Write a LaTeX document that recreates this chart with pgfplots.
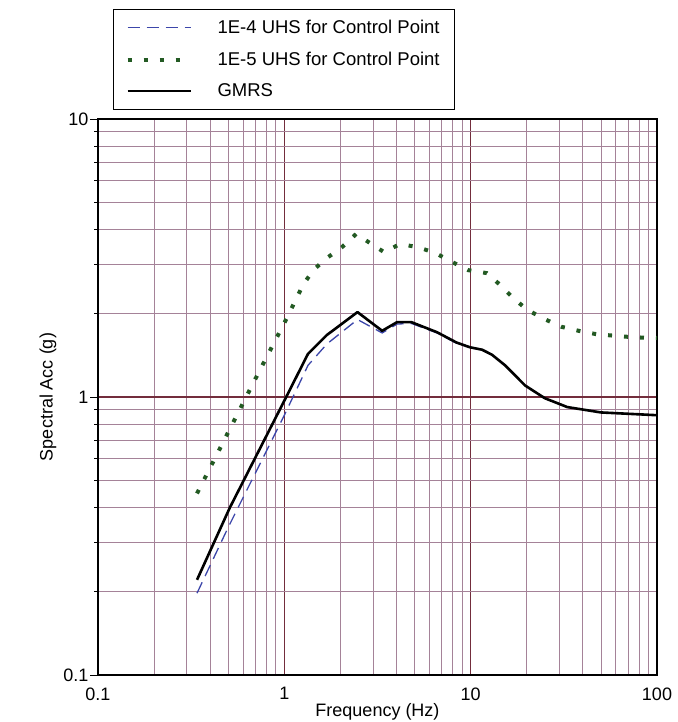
\documentclass[border=0pt]{standalone}
\usepackage{fontspec}
\setmainfont{Liberation Sans}
\usepackage{pgfplots}
\pgfplotsset{compat=1.18}
\definecolor{uhsblue}{RGB}{60,70,170}
\definecolor{uhsgreen}{RGB}{35,90,35}
\definecolor{gridminor}{RGB}{165,130,152}
\definecolor{gridmajor}{RGB}{115,45,60}
\begin{document}
\begin{tikzpicture}
\useasboundingbox (-98pt,-47pt) rectangle (579pt,675pt);
\begin{axis}[
 at={(0,0)}, anchor=south west,
 scale only axis, width=559pt, height=556pt,
 xmode=log, ymode=log,
 xmin=0.1,xmax=100,ymin=0.1,ymax=10,
 xtick={0.1,1,10,100}, xticklabels={0.1,1,10,100},
 ytick={0.1,1,10}, yticklabels={0.1,1,10},
 minor xtick={0.2,0.3,0.4,0.5,0.6,0.7,0.8,0.9,2,3,4,5,6,7,8,9,20,30,40,50,60,70,80,90},
 minor ytick={0.2,0.3,0.4,0.5,0.6,0.7,0.8,0.9,2,3,4,5,6,7,8,9},
 grid=both,
 major grid style={gridmajor, line width=1.1pt},
 minor grid style={gridminor, line width=0.8pt},
 axis line style={black,line width=1.4pt},
 tick align=outside, major tick length=8pt, minor tick length=4pt,
 ytick pos=left, xtick pos=bottom,
 ytick style={black,line width=0.8pt},
 every minor tick/.append style={gridminor},
 xtick style={draw=none},
 /pgf/number format/assume math mode=true,
 ticklabel style={font=\fontsize{18}{20}\selectfont},
 yticklabel style={xshift=2pt},
 xticklabel style={yshift=-1pt},
 xlabel={Frequency (Hz)}, ylabel={Spectral Acc (g)},
 label style={font=\fontsize{18}{20}\selectfont},
 xlabel style={at={(axis description cs:0.5,-0.0665)}, anchor=center},
 ylabel style={at={(axis description cs:-0.0894,0.5)}, anchor=center},
 legend style={at={(0.0268,1.0162)}, anchor=south west, draw=black, line width=1.2pt, fill=white,
   font=\fontsize{18.5}{21}\selectfont, inner xsep=12pt, inner ysep=8pt, row sep=11pt,
   nodes={inner sep=3pt}, /tikz/every odd column/.append style={column sep=22pt}},
 legend cell align=left,
 legend image code/.code={\draw[#1] (0pt,0pt) -- (63pt,0pt);},
]
\addplot[uhsblue, line width=1.3pt, dash pattern=on 12pt off 7pt] coordinates {
(0.34,0.197)(0.5,0.34)(1.0,0.86)(1.34,1.3)(1.69,1.55)(2.47,1.9)(3.35,1.70)(4.03,1.83)(4.8,1.84)
(6.6,1.70)(8.4,1.56)(9.9,1.51)(11.5,1.48)(13,1.42)(15.3,1.3)(19.6,1.1)(25,0.99)(33,0.92)(50,0.88)(100,0.86)};
\addlegendentry{1E-4 UHS for Control Point}
\addplot[uhsgreen, line width=4pt, dash pattern=on 4pt off 12pt] coordinates {
(0.34,0.45)(0.68,1.12)(1.03,1.92)(1.26,2.53)(1.43,2.86)(1.69,3.16)(2.04,3.46)(2.43,3.86)(2.88,3.58)
(3.43,3.32)(4.18,3.55)(5.2,3.46)(6.44,3.3)(7.95,3.06)(9.7,2.86)(12.2,2.79)(14.4,2.53)(16.9,2.27)
(20.1,2.06)(24.8,1.91)(30.6,1.79)(38,1.73)(47.8,1.68)(60.2,1.66)(74.5,1.64)(100,1.63)};
\addlegendentry{1E-5 UHS for Control Point}
\addplot[black, line width=2.6pt, line join=round] coordinates {
(0.34,0.22)(0.51,0.40)(1.0,0.97)(1.34,1.43)(1.69,1.67)(2.47,2.02)(3.35,1.73)(4.03,1.86)(4.8,1.86)
(6.6,1.71)(8.4,1.57)(9.9,1.51)(11.5,1.48)(13,1.42)(15.3,1.3)(19.6,1.1)(25,0.99)(33,0.92)(50,0.88)(100,0.86)};
\addlegendentry{GMRS}
\end{axis}
\end{tikzpicture}
\end{document}
